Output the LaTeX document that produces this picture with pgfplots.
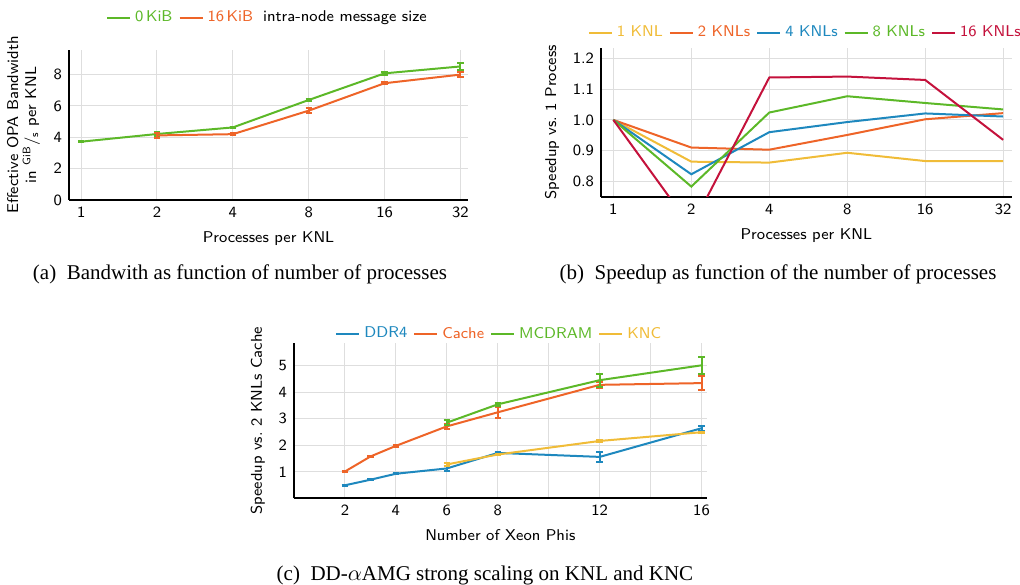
\documentclass[border=0pt]{standalone}
\usepackage{fontspec}
\usepackage{pgfplots}
\pgfplotsset{compat=1.18}
\newfontfamily\capfont{Liberation Serif}

\definecolor{cgreen}{RGB}{92,184,40}
\definecolor{corange}{RGB}{238,100,40}
\definecolor{cblue}{RGB}{30,136,190}
\definecolor{cyellow}{RGB}{240,188,56}
\definecolor{cred}{RGB}{196,18,60}
\definecolor{cgrid}{RGB}{222,222,222}

\pgfplotsset{
  knl/.style={
    scale only axis,
    anchor=south west,
    font=\sffamily\fontsize{7.8pt}{9pt}\selectfont,
    /pgf/number format/assume math mode=true,
    axis x line=bottom, axis y line=left,
    axis line style={-, line width=1.1pt},
    major tick length=0pt,
    grid=major,
    grid style={cgrid, line width=0.5pt},
    every axis plot/.append style={line width=1pt, mark=none},
    error bars/error bar style={line width=1pt},
    error bars/error mark options={line width=1pt, mark size=1.6pt, rotate=90},
    legend style={draw=none, fill=none, legend columns=-1, anchor=center,
      /tikz/every even column/.append style={column sep=1pt}},
    legend image code/.code={\draw[##1, line width=1pt] (0pt,0pt) -- (11.5pt,0pt);},
  },
}

\begin{document}
\begin{tikzpicture}
\useasboundingbox (0,0) rectangle (510pt,292pt);

% (a) bandwidth
\begin{axis}[knl,
  at={(34.5pt,192pt)}, width=199.5pt, height=75pt,
  xmode=log, log basis x=2, xmin=0.895, xmax=34.3,
  xtick={1,2,4,8,16,32}, xticklabels={1,2,4,8,16,32},
  ymin=0, ymax=9.57, ytick={0,2,4,6,8},
  xlabel={Processes per KNL},
  ylabel={Effective OPA Bandwidth\\in \textsuperscript{GiB}/\textsubscript{s} per KNL},
  ylabel style={align=center},
  legend style={at={(0.5,1.213)}},
]
\addplot[cgreen, error bars/.cd, y dir=both, y explicit] coordinates {
  (1,3.72) +- (0,0.04) (2,4.21) +- (0,0.1) (4,4.63) +- (0,0.05)
  (8,6.38) +- (0,0.06) (16,8.08) +- (0,0.08) (32,8.52) +- (0,0.2)};
\addlegendentry{\textcolor{cgreen}{0\,KiB}}
\addplot[corange, error bars/.cd, y dir=both, y explicit] coordinates {
  (2,4.12) +- (0,0.15) (4,4.2) +- (0,0.08) (8,5.7) +- (0,0.15)
  (16,7.45) +- (0,0.08) (32,8.0) +- (0,0.15)};
\addlegendentry{\textcolor{corange}{16\,KiB}}
\addlegendimage{empty legend}
\addlegendentry{intra-node message size}
\end{axis}

% (b) speedup
\begin{axis}[knl,
  at={(300.5pt,193.65pt)}, width=205.3pt, height=74.5pt,
  xmode=log, log basis x=2, xmin=0.896, xmax=34.5,
  xtick={1,2,4,8,16,32}, xticklabels={1,2,4,8,16,32},
  ymin=0.75, ymax=1.235, ytick={0.8,0.9,1.0,1.1,1.2},
  yticklabel style={/pgf/number format/fixed, /pgf/number format/fixed zerofill,
    /pgf/number format/precision=1},
  xlabel={Processes per KNL},
  ylabel={Speedup vs.\ 1 Process},
  legend style={at={(0.5,1.099)}},
]
\addplot[cyellow] coordinates {(1,1.0) (2,0.864) (4,0.861) (8,0.893) (16,0.866) (32,0.866)};
\addlegendentry{\textcolor{cyellow}{1 KNL}}
\addplot[corange] coordinates {(1,1.0) (2,0.91) (4,0.903) (8,0.951) (16,1.002) (32,1.022)};
\addlegendentry{\textcolor{corange}{2 KNLs}}
\addplot[cblue] coordinates {(1,1.0) (2,0.823) (4,0.96) (8,0.993) (16,1.021) (32,1.011)};
\addlegendentry{\textcolor{cblue}{4 KNLs}}
\addplot[cgreen] coordinates {(1,1.0) (2,0.783) (4,1.024) (8,1.077) (16,1.055) (32,1.034)};
\addlegendentry{\textcolor{cgreen}{8 KNLs}}
\addplot[cred] coordinates {(1,1.0) (2,0.65) (4,1.138) (8,1.141) (16,1.130) (32,0.935)};
\addlegendentry{\textcolor{cred}{16 KNLs}}
\end{axis}

% (c) strong scaling
\begin{axis}[knl,
  at={(147pt,42.85pt)}, width=206.3pt, height=77.5pt,
  xmin=0, xmax=16.2, xtick={2,4,6,8,10,12,14,16}, xticklabels={2,4,6,8,,12,,16},
  ymin=0, ymax=5.84, ytick={1,2,3,4,5},
  xlabel={Number of Xeon Phis},
  ylabel={Speedup vs.\ 2 KNLs Cache},
  legend style={at={(0.5,1.06)}},
]
\addplot[cblue, error bars/.cd, y dir=both, y explicit] coordinates {
  (2,0.49) +- (0,0.02) (3,0.7) +- (0,0.02) (4,0.925) +- (0,0.02)
  (6,1.125) +- (0,0.08) (8,1.71) +- (0,0.04) (12,1.56) +- (0,0.2) (16,2.64) +- (0,0.1)};
\addlegendentry{\textcolor{cblue}{DDR4}}
\addplot[corange, error bars/.cd, y dir=both, y explicit] coordinates {
  (2,1.01) +- (0,0.03) (3,1.575) +- (0,0.03) (4,1.975) +- (0,0.04)
  (6,2.71) +- (0,0.1) (8,3.24) +- (0,0.2) (12,4.275) +- (0,0.12) (16,4.34) +- (0,0.25)};
\addlegendentry{\textcolor{corange}{Cache}}
\addplot[cgreen, error bars/.cd, y dir=both, y explicit] coordinates {
  (6,2.85) +- (0,0.1) (8,3.54) +- (0,0.05) (12,4.45) +- (0,0.25) (16,5.01) +- (0,0.32)};
\addlegendentry{\textcolor{cgreen}{MCDRAM}}
\addplot[cyellow, error bars/.cd, y dir=both, y explicit] coordinates {
  (6,1.275) +- (0,0.07) (8,1.65) +- (0,0.02) (12,2.16) +- (0,0.02) (16,2.49) +- (0,0.02)};
\addlegendentry{\textcolor{cyellow}{KNC}}
\end{axis}

\node[anchor=base, font=\capfont\fontsize{10.5pt}{12pt}\selectfont] at (120pt,152.5pt)
  {(a)\enspace Bandwith as function of number of processes};
\node[anchor=base, font=\capfont\fontsize{10.5pt}{12pt}\selectfont] at (389pt,152.5pt)
  {(b)\enspace Speedup as function of the number of processes};
\node[anchor=base, font=\capfont\fontsize{10.5pt}{12pt}\selectfont] at (242.5pt,2pt)
  {(c)\enspace DD-$\alpha$AMG strong scaling on KNL and KNC};
\end{tikzpicture}
\end{document}
